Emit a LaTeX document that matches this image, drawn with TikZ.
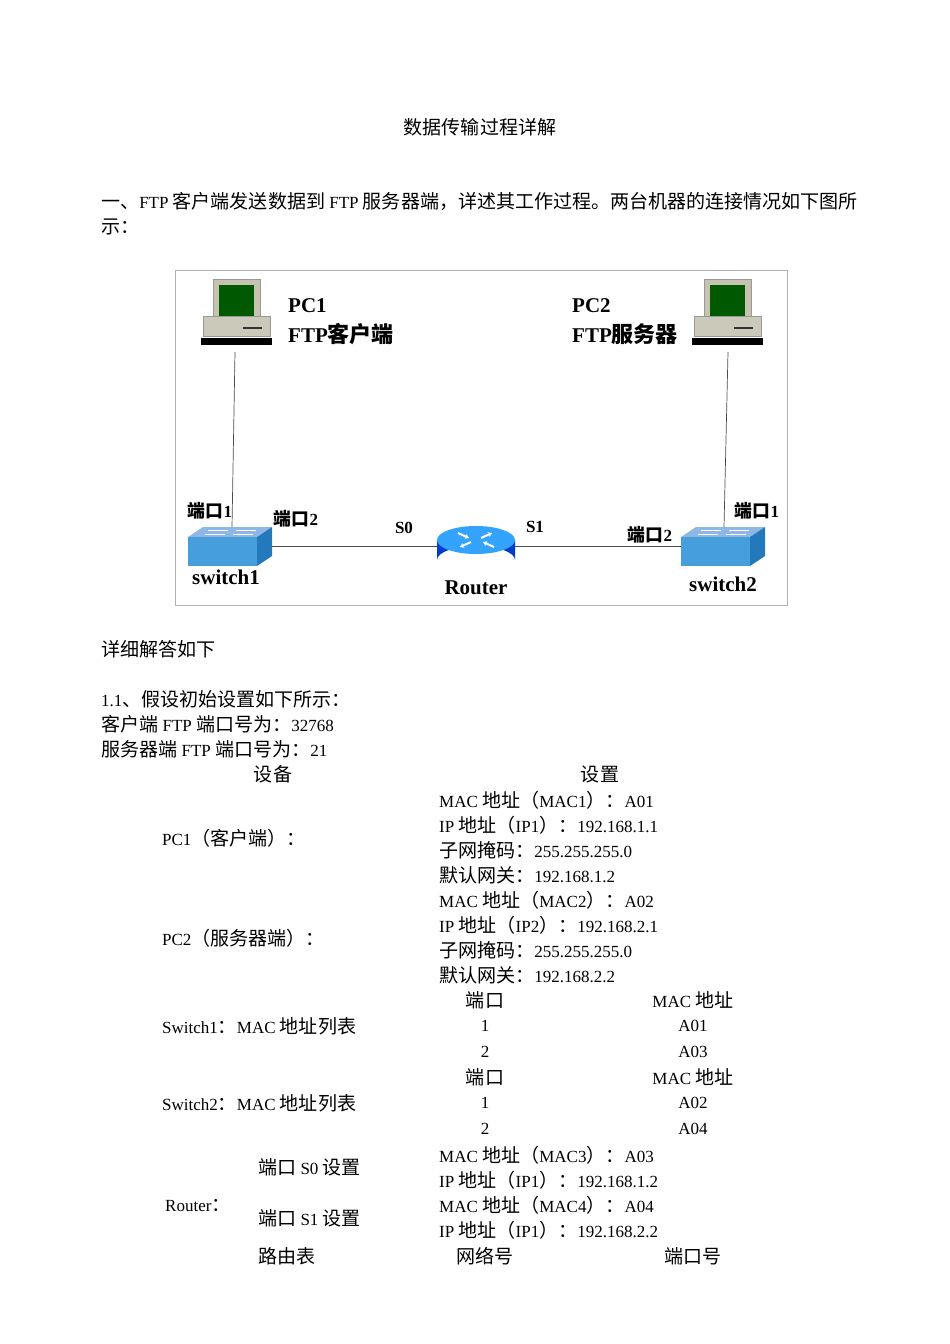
\documentclass[tikz,border=0pt]{standalone}
\usepackage{fontspec}
\usetikzlibrary{arrows.meta}
\setmainfont{Liberation Serif}
\newfontfamily\zh[Scale=1.12]{Noto Sans CJK SC}
\newfontfamily\zhb[Scale=1.05]{Noto Sans CJK SC Bold}
\begin{document}
\begin{tikzpicture}[x=1pt,y=-1pt,
  t/.style={anchor=west,inner sep=0,font=\fontsize{17}{20}\selectfont},
  tc/.style={inner sep=0,font=\fontsize{17}{20}\selectfont},
  lb/.style={inner sep=0,font=\fontsize{21}{24}\bfseries\selectfont},
  lbs/.style={inner sep=0,font=\fontsize{17}{20}\bfseries\selectfont},
  wire/.style={draw=black!70,line width=0.7pt},
  rarr/.style={white,line width=2pt,-{Stealth[length=4pt,width=5pt]}}]
\useasboundingbox (0,0) rectangle (950,1344);
\node[tc] (title) at (480,127) {\zh 数据传输过程详解};
\node[t] (q1) at (101,201) {{\zh 一、}FTP {\zh 客户端发送数据到} FTP {\zh 服务器端，详述其工作过程。两台机器的连接情况如下图所}};
\node[t] (q2) at (101,227) {\zh 示：};
% diagram frame
\draw[black!30] (175,270) rectangle (787,605);
% PCs
\foreach \dx in {0,491}{
\begin{scope}[xshift=\dx]
\fill[black!15!yellow!20!gray!60] (213,279) rectangle (260,322);
\draw[black!40] (213,279) rectangle (260,322);
\fill[green!35!black] (219,285) rectangle (254,316);
\fill[yellow!15!gray!55] (203,316) rectangle (270,336);
\draw[black!40] (203,316) rectangle (270,336);
\draw[black!80,line width=1.5pt] (243,328) -- (262,328);
\fill[black] (201,338) rectangle (272,345);
\end{scope}}
\coordinate (p1) at (235,352); \coordinate (p2) at (728,352);
% switches
\foreach \dx in {0,493}{
\begin{scope}[xshift=\dx]
\fill[cyan!60!blue!45] (188,537) -- (203,527) -- (272,527) -- (257,537) -- cycle;
\fill[cyan!70!blue!75] (188,537) rectangle (257,566);
\fill[cyan!60!blue!90!black] (257,537) -- (272,527) -- (272,556) -- (257,566) -- cycle;
\draw[white,line width=1pt] (208,530) -- (228,530) (236,530) -- (256,530) (205,534) -- (225,534) (233,534) -- (253,534);
\end{scope}}
\coordinate (s1t) at (232,527); \coordinate (s1r) at (272,546);
\coordinate (s2t) at (724,527); \coordinate (s2l) at (681,546);
% router
\fill[blue!70!cyan!80!black] (437,540) -- (437,560) arc[start angle=180,end angle=360,x radius=39,y radius=14] -- (515,540) -- cycle;
\fill[blue!45!cyan!80] (476,540) ellipse[x radius=39,y radius=14];
\draw[rarr] (458,533) -- (469,538);
\draw[rarr] (494,547) -- (483,542);
\draw[rarr] (481,538) -- (492,533);
\draw[rarr] (471,542) -- (460,547);
\coordinate (rl) at (437,546); \coordinate (rr) at (515,546);
\draw[wire] (p1) -- (s1t); \draw[wire] (p2) -- (s2t);
\draw[wire] (s1r) -- (rl); \draw[wire] (rr) -- (s2l);
% labels
\node[lb,anchor=west] (l1) at (288,306) {PC1};
\node[lb,anchor=west] (l2) at (288,334) {FTP{\zhb 客户端}};
\node[lb,anchor=west] (l3) at (572,306) {PC2};
\node[lb,anchor=west] (l4) at (572,334) {FTP{\zhb 服务器}};
\node[lbs] (a1) at (210,511) {{\zhb 端口}1};
\node[lbs] (a2) at (296,519) {{\zhb 端口}2};
\node[lbs] (a3) at (404,528) {S0};
\node[lbs] (a4) at (535,527) {S1};
\node[lbs] (a5) at (650,535) {{\zhb 端口}2};
\node[lbs] (a6) at (757,511) {{\zhb 端口}1};
\node[lb] (n1) at (226,577) {switch1};
\node[lb] (n2) at (476,588) {Router};
\node[lb] (n3) at (723,584) {switch2};
% text below
\node[t] (b1) at (101,649) {\zh 详细解答如下};
\node[t] (b2) at (101,699) {1.1{\zh 、假设初始设置如下所示：}};
\node[t] (b3) at (101,724) {{\zh 客户端} FTP {\zh 端口号为：}32768};
\node[t] (b4) at (101,749) {{\zh 服务器端} FTP {\zh 端口号为：}21};
\node[tc] (h1) at (273,774) {\zh 设备};
\node[tc] (h2) at (600,774) {\zh 设置};
\node[t] (r1) at (439,800) {MAC {\zh 地址（}MAC1{\zh ）：}A01};
\node[t] (r2) at (439,825) {IP {\zh 地址（}IP1{\zh ）：}192.168.1.1};
\node[t] (r3) at (439,850) {{\zh 子网掩码：}255.255.255.0};
\node[t] (r4) at (439,875) {{\zh 默认网关：}192.168.1.2};
\node[t] (r5) at (439,900) {MAC {\zh 地址（}MAC2{\zh ）：}A02};
\node[t] (r6) at (439,925) {IP {\zh 地址（}IP2{\zh ）：}192.168.2.1};
\node[t] (r7) at (439,950) {{\zh 子网掩码：}255.255.255.0};
\node[t] (r8) at (439,975) {{\zh 默认网关：}192.168.2.2};
\node[t] (d1) at (162,838) {PC1{\zh （客户端）：}};
\node[t] (d2) at (162,938) {PC2{\zh （服务器端）：}};
\node[t] (d3) at (162,1026) {Switch1{\zh ：}MAC {\zh 地址列表}};
\node[t] (d4) at (162,1103) {Switch2{\zh ：}MAC {\zh 地址列表}};
\node[tc] (k1) at (485,1000) {\zh 端口};
\node[tc] (k2) at (693,1000) {MAC {\zh 地址}};
\node[tc] (k3) at (485,1026) {1};
\node[tc] (k4) at (693,1026) {A01};
\node[tc] (k5) at (485,1052) {2};
\node[tc] (k6) at (693,1052) {A03};
\node[tc] (m1) at (485,1077) {\zh 端口};
\node[tc] (m2) at (693,1077) {MAC {\zh 地址}};
\node[tc] (m3) at (485,1103) {1};
\node[tc] (m4) at (693,1103) {A02};
\node[tc] (m5) at (485,1129) {2};
\node[tc] (m6) at (693,1129) {A04};
\node[t] (e1) at (258,1167) {{\zh 端口} S0 {\zh 设置}};
\node[t] (e2) at (258,1218) {{\zh 端口} S1 {\zh 设置}};
\node[t] (e3) at (165,1206) {Router{\zh ：}};
\node[t] (e4) at (258,1256) {\zh 路由表};
\node[t] (f1) at (439,1155) {MAC {\zh 地址（}MAC3{\zh ）：}A03};
\node[t] (f2) at (439,1180) {IP {\zh 地址（}IP1{\zh ）：}192.168.1.2};
\node[t] (f3) at (439,1205) {MAC {\zh 地址（}MAC4{\zh ）：}A04};
\node[t] (f4) at (439,1230) {IP {\zh 地址（}IP1{\zh ）：}192.168.2.2};
\node[tc] (g1) at (485,1256) {\zh 网络号};
\node[tc] (g2) at (693,1256) {\zh 端口号};
\end{tikzpicture}
\end{document}
